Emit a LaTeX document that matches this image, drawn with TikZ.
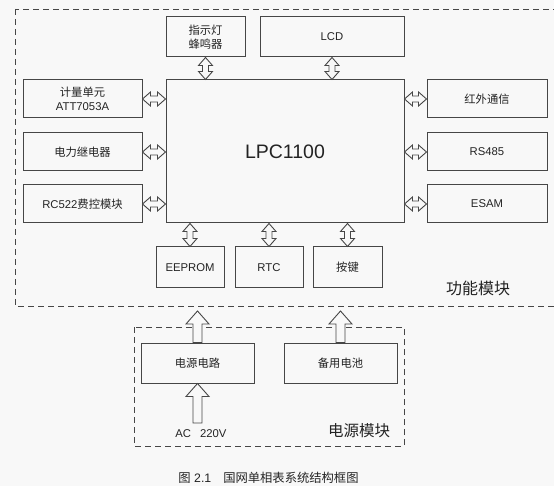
\documentclass[tikz,border=0pt]{standalone}
\usepackage{fontspec}
\setmainfont{Liberation Sans}
\newfontfamily\cjk{Noto Sans CJK SC}
\usetikzlibrary{calc}
\definecolor{bg}{RGB}{248,248,248}
\definecolor{ln}{RGB}{70,70,70}
\definecolor{tx}{RGB}{35,35,35}
\tikzset{
  blk/.style={draw=ln, line width=0.9pt, fill=bg},
  box/.style={draw=ln, line width=1pt, fill=bg, inner sep=0pt, align=center,
    font=\fontsize{11.3}{14.5}\selectfont, text=tx},
  grp/.style={draw=ln, line width=0.9pt, dash pattern=on 6pt off 4pt},
  lbl/.style={inner sep=0pt, text=tx},
}
% horizontal double block arrow between two points (same y as first)
\newcommand\harr[2]{\draw[blk] let \p1=(#1), \p2=(#2) in
  (\x1,\y1) -- ({\x1+8pt},{\y1+7pt}) -- ({\x1+8pt},{\y1+3pt}) -- ({\x2-8pt},{\y1+3pt})
  -- ({\x2-8pt},{\y1+7pt}) -- (\x2,\y1) -- ({\x2-8pt},{\y1-7pt}) -- ({\x2-8pt},{\y1-3pt})
  -- ({\x1+8pt},{\y1-3pt}) -- ({\x1+8pt},{\y1-7pt}) -- cycle;}
% vertical double block arrow, #1 upper point, #2 lower point
\newcommand\varr[2]{\draw[blk] let \p1=(#1), \p2=(#2) in
  (\x1,\y1) -- ({\x1+7pt},{\y1-8pt}) -- ({\x1+3pt},{\y1-8pt}) -- ({\x1+3pt},{\y2+8pt})
  -- ({\x1+7pt},{\y2+8pt}) -- (\x1,\y2) -- ({\x1-7pt},{\y2+8pt}) -- ({\x1-3pt},{\y2+8pt})
  -- ({\x1-3pt},{\y1-8pt}) -- ({\x1-7pt},{\y1-8pt}) -- cycle;}
% single up block arrow, #1 tail (bottom), #2 tip (top)
\newcommand\uparr[2]{\draw[blk] let \p1=(#1), \p2=(#2) in
  (\x2,\y2) -- ({\x2+11.5pt},{\y2-13pt}) -- ({\x2+4.5pt},{\y2-13pt}) -- ({\x2+4.5pt},\y1)
  -- ({\x2-4.5pt},\y1) -- ({\x2-4.5pt},{\y2-13pt}) -- ({\x2-11.5pt},{\y2-13pt}) -- cycle;}
\begin{document}
\begin{tikzpicture}[x=1pt,y=-1pt]
\clip (0,0) rectangle (554,486);
\fill[bg] (0,0) rectangle (554,486);

% group frames
\draw[grp] (15,9) rectangle (570,306);
\draw[grp] (134,327) rectangle (404,446);

% top
\node[box, minimum width=79pt, minimum height=40pt] (led) at (205.5,37) {\cjk 指示灯\\\cjk 蜂鸣器};
\node[box, minimum width=144pt, minimum height=40pt] (lcd) at (332,37) {LCD};
% cpu
\node[box, minimum width=238pt, minimum height=143pt, font=\fontsize{19.5}{20}\selectfont] (lpc) at (285,151.5) {LPC1100};
% left
\node[box, minimum width=119pt, minimum height=38pt] (m1) at (82.5,99) {\cjk 计量单元\\ATT7053A};
\node[box, minimum width=119pt, minimum height=38pt] (m2) at (82.5,152) {\cjk 电力继电器};
\node[box, minimum width=119pt, minimum height=38pt] (m3) at (82.5,204) {RC522{\cjk 费控模块}};
% right
\node[box, minimum width=120pt, minimum height=38pt] (r1) at (487,99) {\cjk 红外通信};
\node[box, minimum width=120pt, minimum height=38pt] (r2) at (487,152) {RS485};
\node[box, minimum width=120pt, minimum height=38pt] (r3) at (487,204) {ESAM};
% bottom
\node[box, minimum width=68pt, minimum height=41pt] (ee) at (190,267.5) {EEPROM};
\node[box, minimum width=68pt, minimum height=41pt] (rtc) at (269,267.5) {RTC};
\node[box, minimum width=69pt, minimum height=41pt] (key) at (347.5,267.5) {\cjk 按键};
% power
\node[box, minimum width=113pt, minimum height=40pt] (ps) at (197.5,363) {\cjk 电源电路};
\node[box, minimum width=113pt, minimum height=40pt] (bat) at (340.5,363) {\cjk 备用电池};

% labels
\node[lbl, font=\cjk\fontsize{16}{16}\selectfont] (fl) at (478,288) {功能模块};
\node[lbl, font=\cjk\fontsize{15.5}{16}\selectfont] (pl) at (359,431) {电源模块};
\node[lbl, font=\fontsize{11.3}{12}\selectfont] (ac) at (201,434) {AC\hspace{9pt}220V};
\node[lbl, font=\fontsize{12.3}{13}\selectfont] (cap) at (268.5,478) {{\cjk 图} 2.1\hspace{12pt}{\cjk 国网单相表系统结构框图}};

\coordinate (fbot) at (285,311);
\coordinate (acin) at (197.5,423);

% connectors
\harr{m1.east}{lpc.west|-m1.east}
\harr{m2.east}{lpc.west|-m2.east}
\harr{m3.east}{lpc.west|-m3.east}
\harr{lpc.east|-r1.west}{r1.west}
\harr{lpc.east|-r2.west}{r2.west}
\harr{lpc.east|-r3.west}{r3.west}
\varr{led.south}{lpc.north-|led.south}
\varr{lcd.south}{lpc.north-|lcd.south}
\varr{lpc.south-|ee.north}{ee.north}
\varr{lpc.south-|rtc.north}{rtc.north}
\varr{lpc.south-|key.north}{key.north}
\uparr{ps.north}{ps.north|-fbot}
\uparr{bat.north}{bat.north|-fbot}
\uparr{acin}{ps.south}
\end{tikzpicture}
\end{document}
